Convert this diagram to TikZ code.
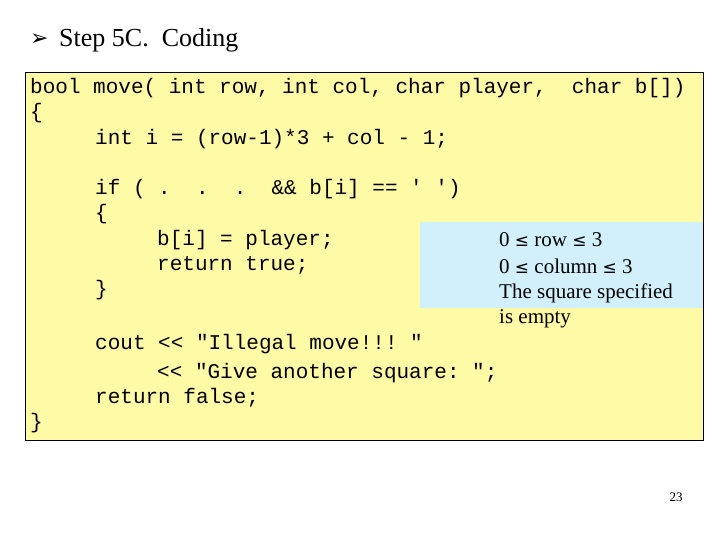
\documentclass[tikz,border=0pt]{standalone}
\usepackage{fontspec}
\setmainfont{Liberation Serif}
\setmonofont{Liberation Mono}
\newfontfamily\symf{DejaVu Sans}
\begin{document}
\begin{tikzpicture}[x=1pt,y=-1pt,
  code/.style={anchor=west,inner sep=0pt,font=\fontsize{21}{21}\ttfamily},
  note/.style={anchor=west,inner sep=0pt,font=\fontsize{21}{21}\selectfont}]
\useasboundingbox (0,0) rectangle (720,540);
\node[anchor=west,inner sep=0pt] (bul) at (30,40) {\symf\fontsize{22}{22}\selectfont ➢};
\node[anchor=west,inner sep=0pt,font=\fontsize{26}{26}\selectfont] (title) at (59,40) {Step 5C.~ Coding};
\node[draw=black,fill=yellow!35!white,line width=0.6pt,minimum width=678pt,minimum height=368pt,anchor=north west,inner sep=0pt] (box) at (25,72) {};
\node[fill=cyan!18!white,minimum width=283pt,minimum height=86pt,anchor=north west,inner sep=0pt] (cy) at (420,222) {};
\node[code] (l1) at (30,88) {bool move( int row, int col, char player,~~char b[])};
\node[code] (l2) at (30,113) {\{};
\node[code] (l3) at (95,139) {int i = (row-1)*3 + col - 1;};
\node[code] (l4) at (95,189) {if~(~.~~.~~.~~\&\& b[i] == ' ')};
\node[code] (l5) at (95,214) {\{};
\node[code] (l6) at (157,240) {b[i] = player;};
\node[code] (l7) at (157,265) {return true;};
\node[code] (l8) at (95,290) {\}};
\node[code] (l9) at (95,344) {cout << "Illegal move!!! ″};
\node[code] (l10) at (157,373) {<< ″Give another square: ";};
\node[code] (l11) at (95,398) {return false;};
\node[code] (l12) at (30,423) {\}};
\node[note] (n1) at (499,240) {0 \symf\fontsize{17}{17}\selectfont≤\rmfamily\fontsize{21}{21}\selectfont{} row \symf\fontsize{17}{17}\selectfont≤\rmfamily\fontsize{21}{21}\selectfont{} 3};
\node[note] (n2) at (499,266) {0 \symf\fontsize{17}{17}\selectfont≤\rmfamily\fontsize{21}{21}\selectfont{} column \symf\fontsize{17}{17}\selectfont≤\rmfamily\fontsize{21}{21}\selectfont{} 3};
\node[note] (n3) at (499,293) {The square specified};
\node[note] (n4) at (499,319) {is empty};
\node[anchor=center,inner sep=0pt,font=\fontsize{13}{13}\selectfont] (pg) at (676,497) {23};
\end{tikzpicture}
\end{document}
